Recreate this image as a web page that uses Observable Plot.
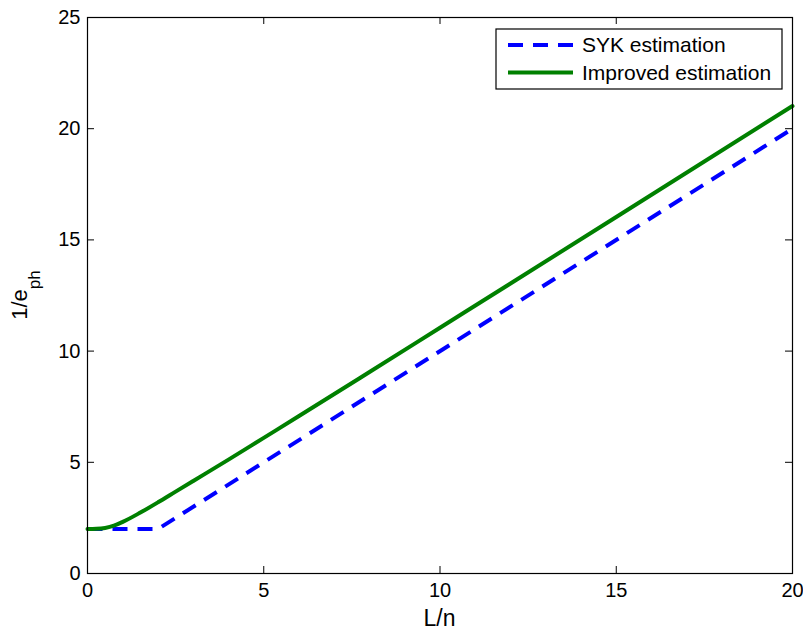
<!DOCTYPE html>
<html>
<head>
<meta charset="utf-8">
<script src="https://cdn.jsdelivr.net/npm/d3@7"></script>
<script src="https://cdn.jsdelivr.net/npm/@observablehq/plot@0.6"></script>
<style>
  html, body { margin: 0; padding: 0; background: white; }
</style>
</head>
<body>
<div id="chart"></div>
<script>
// Data
const sykX = [0, 2, 20];
const sykY = [2, 2, 20];
const impX = [0, 0.25, 0.5, 0.75, 1, 1.5, 2, 2.5, 3, 4, 5, 6, 8, 10, 12, 15, 20];
const impY = [2, 2.01, 2.05, 2.15, 2.32, 2.74, 3.2, 3.68, 4.16, 5.12, 6.1, 7.08, 9.06, 11.05, 13.04, 16.03, 21.02];
const xTicks = [0, 5, 10, 15, 20];
const yTicks = [0, 5, 10, 15, 20, 25];
const seriesNames = ["SYK estimation", "Improved estimation"];

const W = 803, H = 630;
const mL = 87, mR = 11, mT = 17, mB = 57;
const pw = W - mL - mR, ph = H - mT - mB;
const tk = 7;

const syk = sykX.map((x, i) => ({x, y: sykY[i]}));
const imp = impX.map((x, i) => ({x, y: impY[i]}));

const plot = Plot.plot({
  width: W, height: H,
  marginLeft: mL, marginRight: mR, marginTop: mT, marginBottom: mB,
  style: {fontFamily: "'Liberation Sans', Arial, Helvetica, sans-serif", fontSize: "20px", background: "white", color: "black"},
  x: {domain: [0, 20], label: null},
  y: {domain: [0, 25], label: null},
  marks: [
    Plot.axisX({ticks: xTicks, tickSize: 0, tickPadding: 9, fontSize: 20, label: null}),
    Plot.axisY({ticks: yTicks, tickSize: 0, tickPadding: 7, fontSize: 20, label: null}),
    Plot.tickX(xTicks, {x: d => d, insetTop: ph - tk, stroke: "black"}),
    Plot.tickX(xTicks, {x: d => d, insetBottom: ph - tk, stroke: "black"}),
    Plot.tickY(yTicks, {y: d => d, insetRight: pw - tk, stroke: "black"}),
    Plot.tickY(yTicks, {y: d => d, insetLeft: pw - tk, stroke: "black"}),
    Plot.line(syk, {x: "x", y: "y", stroke: "#0000ff", strokeWidth: 4, strokeDasharray: "15,10", strokeLinecap: "butt"}),
    Plot.line(imp, {x: "x", y: "y", stroke: "#008000", strokeWidth: 4, curve: "monotone-x"}),
    Plot.frame({stroke: "black", strokeWidth: 1.2})
  ]
});
document.getElementById("chart").appendChild(plot);

const svg = d3.select(plot);
// Y label with subscript
const yl = svg.append("text")
  .attr("transform", `translate(27, ${mT + ph / 2}) rotate(-90)`)
  .attr("text-anchor", "middle")
  .attr("font-size", 22)
  .attr("fill", "black");
yl.append("tspan").text("1/e");
yl.append("tspan").attr("font-size", 17).attr("dy", 13).text("ph");

// X label
svg.append("text")
  .attr("x", mL + pw / 2).attr("y", 626)
  .attr("text-anchor", "middle")
  .attr("font-size", 23)
  .attr("fill", "black")
  .text("L/n");

// Legend
const lg = svg.append("g").attr("text-anchor", "start");
lg.append("rect").attr("x", 496).attr("y", 29).attr("width", 286).attr("height", 60)
  .attr("fill", "white").attr("stroke", "black").attr("stroke-width", 1.2);
const legendStyles = [
  {stroke: "#0000ff", dash: "15,10"},
  {stroke: "#008000", dash: null}
];
seriesNames.forEach((name, i) => {
  const yy = 45 + i * 27.5;
  lg.append("line").attr("x1", 508).attr("x2", 573).attr("y1", yy).attr("y2", yy)
    .attr("stroke", legendStyles[i].stroke).attr("stroke-width", 4)
    .attr("stroke-dasharray", legendStyles[i].dash);
  lg.append("text").attr("x", 582).attr("y", yy).attr("dy", "0.35em")
    .attr("text-anchor", "start")
    .attr("font-size", 21).attr("fill", "black").text(name);
});
</script>
</body>
</html>
